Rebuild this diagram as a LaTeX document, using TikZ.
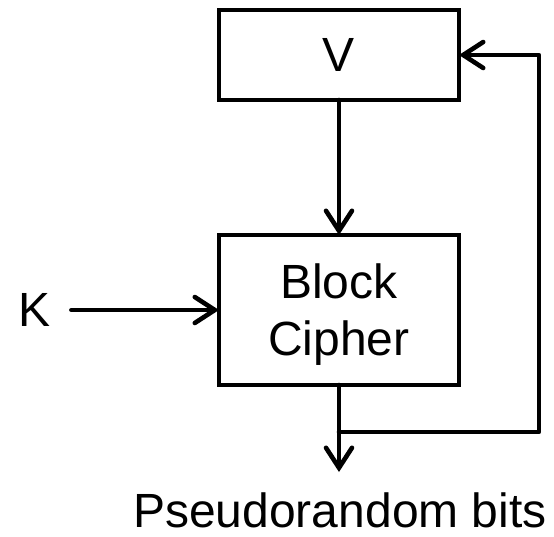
\documentclass[tikz,border=0pt]{standalone}
\usepackage{fontspec}
\setmainfont{Liberation Sans}
\usetikzlibrary{positioning,arrows.meta}

\begin{document}
\begin{tikzpicture}[x=0.5pt,y=-0.5pt,
  box/.style={draw, line width=2.2pt, minimum width=120pt, inner sep=0pt,
              outer sep=0pt, align=center, font=\fontsize{24}{28.5}\selectfont},
  lbl/.style={inner sep=0pt, font=\fontsize{24}{28.5}\selectfont},
  flow/.style={line width=2.3pt, line cap=round, line join=round,
               -{Straight Barb[length=10pt,width=13pt,line cap=round]}}]
\useasboundingbox (0,0) rectangle (554,537);
% boxes
\node[box, minimum height=45pt] (V) at (339,55) {V};
\node[box, minimum height=75pt, text depth=0pt] (cipher) at (339,310) {Block\\Cipher};
\node[lbl] (K) at (35,310) {K};
% output and feedback points
\coordinate (split) at (339,432);
\coordinate (out) at (339,472);
\coordinate (corner) at (539,432);
\node[lbl, anchor=base] (bits) at (340,527) {Pseudorandom bits};
% connectors
\draw[flow] (V) -- (cipher);
\draw[flow] ([xshift=10pt]K.east) -- (cipher.west);
\draw[flow] (cipher.south) -- (out);
\draw[flow] (split) -- (corner) |- (V.east);
\end{tikzpicture}
\end{document}
